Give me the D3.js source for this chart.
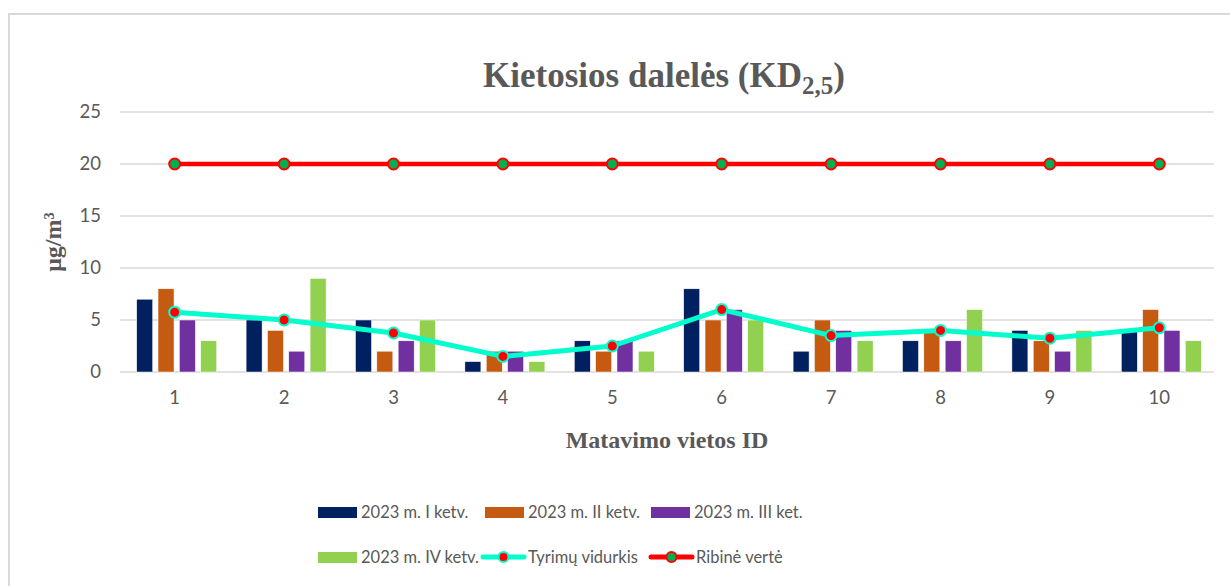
<!DOCTYPE html>
<html><head><meta charset="utf-8">
<script src="https://cdn.jsdelivr.net/npm/d3@7"></script>
<style>body{margin:0;background:#fff}svg{display:block}</style>
</head><body>
<script>
const categories = ["1","2","3","4","5","6","7","8","9","10"];
const seriesNames = ["2023 m. I ketv.","2023 m. II ketv.","2023 m. III ket.","2023 m. IV ketv."];
const q1 = [7,5,5,1,3,8,2,3,4,4];
const q2 = [8,4,2,2,2,5,5,4,3,6];
const q3 = [5,2,3,2,3,6,4,3,2,4];
const q4 = [3,9,5,1,2,5,3,6,4,3];
const average = [5.75,5,3.75,1.5,2.5,6,3.5,4,3.25,4.25];
const limit = [20,20,20,20,20,20,20,20,20,20];
const yTicks = [0,5,10,15,20,25];
const barColors = ["#002060","#C55A11","#7030A0","#92D050"];

const W=1230,H=586;
const svg=d3.select("body").append("svg").attr("width",W).attr("height",H);
svg.append("rect").attr("x",9).attr("y",14).attr("width",1240).attr("height",600)
  .attr("fill","#fff").attr("stroke","#d9d9d9").attr("stroke-width",2);

const x=d3.scaleBand().domain(categories).range([120,1214]);
const y=d3.scaleLinear().domain([0,25]).range([372,112]);
const bars=[q1,q2,q3,q4];
const sub=d3.scaleBand().domain(d3.range(4)).range([0,80]).paddingInner(0.25);

// gridlines
svg.append("g").selectAll("line").data(yTicks).join("line")
  .attr("x1",120).attr("x2",1214).attr("y1",d=>y(d)).attr("y2",d=>y(d))
  .attr("stroke","#d9d9d9").attr("stroke-width",1.5);

// y axis labels
const yAxis=d3.axisLeft(y).tickValues(yTicks).tickSize(0).tickPadding(0);
const yg=svg.append("g").attr("transform","translate(101,0)").call(yAxis);
yg.select(".domain").remove();
yg.selectAll("text").attr("font-family","Lato, 'Open Sans', sans-serif").attr("font-size",18.5).attr("fill","#595959");

// x axis labels
const xAxis=d3.axisBottom(x).tickSize(0).tickPadding(0);
const xg=svg.append("g").attr("transform","translate(0,391)").call(xAxis);
xg.select(".domain").remove();
xg.selectAll("text").attr("font-family","Lato, 'Open Sans', sans-serif").attr("font-size",18.5).attr("fill","#595959");

// bars
bars.forEach((s,i)=>{
  svg.append("g").selectAll("rect").data(s).join("rect")
    .attr("x",(d,j)=>x(categories[j])+x.bandwidth()/2-38+sub(i))
    .attr("width",sub.bandwidth())
    .attr("y",d=>y(d)).attr("height",d=>y(0)-y(d))
    .attr("fill",barColors[i]).attr("stroke","#fff").attr("stroke-width",0.5);
});

const cx=j=>x(categories[j])+x.bandwidth()/2;
const line=d3.line().x((d,j)=>cx(j)).y(d=>y(d));
// average line
svg.append("path").datum(average).attr("d",line).attr("fill","none")
  .attr("stroke","#00FFCC").attr("stroke-width",5).attr("stroke-linejoin","round");
svg.append("g").selectAll("circle").data(average).join("circle")
  .attr("cx",(d,j)=>cx(j)).attr("cy",d=>y(d)).attr("r",5.5)
  .attr("fill","#FF0000").attr("stroke","#00FFCC").attr("stroke-width",2);
// limit line
svg.append("path").datum(limit).attr("d",line).attr("fill","none")
  .attr("stroke","#FF0000").attr("stroke-width",4.5);
svg.append("g").selectAll("circle").data(limit).join("circle")
  .attr("cx",(d,j)=>cx(j)).attr("cy",d=>y(d)).attr("r",5.5)
  .attr("fill","#00B050").attr("stroke","#FF0000").attr("stroke-width",2);

// title
const t=svg.append("text").attr("x",664).attr("y",87).attr("text-anchor","middle")
  .attr("font-family","'Liberation Serif', serif").attr("font-weight","bold").attr("font-size",35).attr("fill","#595959");
t.append("tspan").text("Kietosios dalelės (KD");
t.append("tspan").text("2,5").attr("font-size",25).attr("dy",7);
t.append("tspan").text(")").attr("dy",-7);

// axis titles
svg.append("text").attr("transform","translate(61,242) rotate(-90)").attr("text-anchor","middle")
  .attr("font-family","'Liberation Serif', serif").attr("font-weight","bold").attr("font-size",24).attr("fill","#595959")
  .text("μg/m³");
svg.append("text").attr("x",667).attr("y",448).attr("text-anchor","middle")
  .attr("font-family","'Liberation Serif', serif").attr("font-weight","bold").attr("font-size",24).attr("fill","#595959")
  .text("Matavimo vietos ID");

// legend
const legFont="Lato, 'Open Sans', sans-serif";
const legItems=[
  {name:seriesNames[0],type:"bar",c:barColors[0],x:318,y:512},
  {name:seriesNames[1],type:"bar",c:barColors[1],x:485,y:512},
  {name:seriesNames[2],type:"bar",c:barColors[2],x:651,y:512},
  {name:seriesNames[3],type:"bar",c:barColors[3],x:318,y:557},
  {name:"Tyrimų vidurkis",type:"line",c:"#00FFCC",m:"#FF0000",x:483,y:557},
  {name:"Ribinė vertė",type:"line",c:"#FF0000",m:"#00B050",x:651,y:557}
];
const lg=svg.append("g");
legItems.forEach(it=>{
  if(it.type==="bar"){
    lg.append("rect").attr("x",it.x).attr("y",it.y-5).attr("width",39).attr("height",11).attr("fill",it.c);
    lg.append("text").attr("x",it.x+43).attr("y",it.y+6).text(it.name)
      .attr("font-family",legFont).attr("font-size",16.5).attr("fill","#595959");
  } else {
    lg.append("line").attr("x1",it.x).attr("x2",it.x+41).attr("y1",it.y).attr("y2",it.y)
      .attr("stroke",it.c).attr("stroke-width",5).attr("stroke-linecap","round");
    lg.append("circle").attr("cx",it.x+20.5).attr("cy",it.y).attr("r",5)
      .attr("fill",it.m).attr("stroke",it.c).attr("stroke-width",2);
    lg.append("text").attr("x",it.x+45).attr("y",it.y+6).text(it.name)
      .attr("font-family",legFont).attr("font-size",16.5).attr("fill","#595959");
  }
});
</script>
</body></html>
